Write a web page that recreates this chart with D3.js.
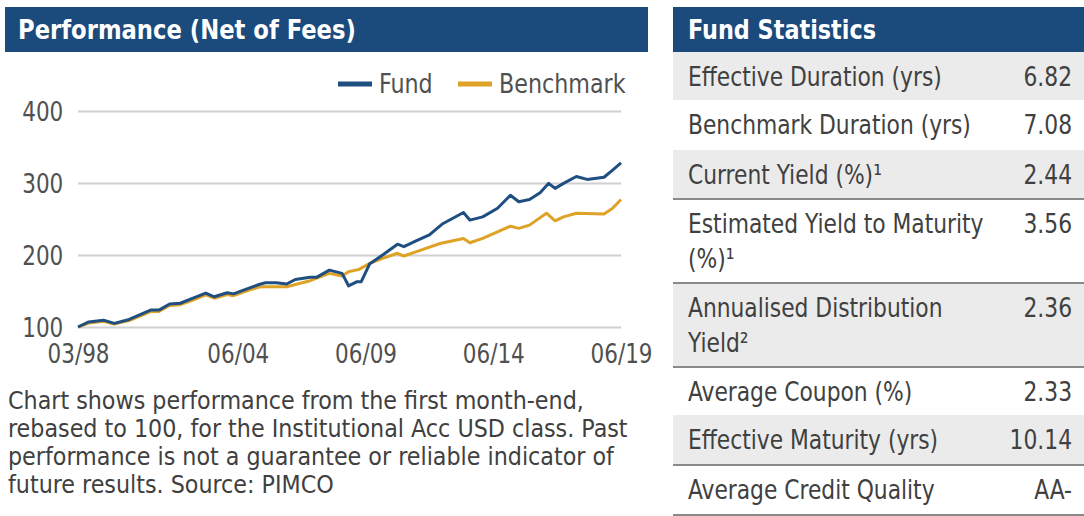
<!DOCTYPE html>
<html><head><meta charset="utf-8">
<script src="https://cdn.jsdelivr.net/npm/d3@7"></script>
<style>
html,body{margin:0;padding:0;background:#fff;}
svg{display:block;}
.f{font-family:"Liberation Sans Narrow","DejaVu Sans Condensed","Arial Narrow",sans-serif;}
</style></head>
<body>
<svg id="c" width="1084" height="516"></svg>
<script>
// ---------- data ----------
const fundDates = ["1998-03","1998-08","1999-03","1999-08","2000-03","2001-01","2001-05","2001-10","2002-03","2002-09","2003-03","2003-07","2004-01","2004-04","2004-10","2005-04","2005-07","2005-12","2006-05","2006-09","2007-04","2007-07","2008-01","2008-07","2008-09","2008-10","2009-02","2009-04","2009-08","2010-02","2010-09","2010-12","2011-06","2011-12","2012-06","2012-11","2013-04","2013-07","2014-01","2014-08","2015-02","2015-06","2015-11","2016-04","2016-08","2016-11","2017-03","2017-09","2018-02","2018-10","2019-02","2019-06"];
const fundValues = [100,107,109.5,105,110.5,123.5,123.5,132,133,140,147,142,147.5,146,152.5,159,161.5,161.5,159.7,166,169,169,179,174.5,163,157,163,163,188,200,215,211.5,220,228,243,251,259,248.5,253,265,283,274,277,286.5,299.5,292.5,299.5,309,305,308,318,328];
const benchDates = ["1998-03","1998-08","1999-03","1999-08","2000-03","2001-01","2001-05","2001-10","2002-03","2002-09","2003-03","2003-07","2004-01","2004-04","2004-10","2005-04","2005-07","2006-05","2007-04","2008-01","2008-07","2008-10","2009-03","2009-08","2010-02","2010-09","2010-12","2011-06","2012-05","2013-04","2013-07","2014-01","2015-02","2015-06","2015-11","2016-07","2016-11","2017-03","2017-09","2018-10","2019-02","2019-06"];
const benchValues = [100,105.5,108,104,109,121.5,121.5,130,131,137.5,144.5,140,145,143.5,150,155.5,156,156,164.3,174.5,170.8,176.8,180,188.4,195.4,202.4,198.6,204.6,216,223,217,223,240,237,241.5,258,247.5,253,258,257,265,277];
const yTicks = [100,200,300,400];
const xTickLabels = ["1998-03","2004-06","2009-06","2014-06","2019-06"];
const seriesNames = ["Fund","Benchmark"];
const statLabels = [["Effective Duration (yrs)"],["Benchmark Duration (yrs)"],["Current Yield (%)¹"],["Estimated Yield to Maturity","(%)¹"],["Annualised Distribution","Yield²"],["Average Coupon (%)"],["Effective Maturity (yrs)"],["Average Credit Quality"]];
const statValues = ["6.82","7.08","2.44","3.56","2.36","2.33","10.14","AA-"];
const caption = ["Chart shows performance from the first month-end,","rebased to 100, for the Institutional Acc USD class. Past","performance is not a guarantee or reliable indicator of","future results. Source: PIMCO"];

// ---------- styles ----------
const NAVY = "#1b4a7c", FUNDC = "#1f4e80", BENCHC = "#dea326", TXT = "#404040";
const SX = 0.92;
const svg = d3.select("#c");
const parse = d3.timeParse("%Y-%m");

function label(parent, x, y, str, size, opts={}){
  const g = parent.append("g").attr("transform",`translate(${x},${y}) scale(${opts.sx||SX},1)`);
  const t = g.append("text").attr("class","f").attr("font-size",size)
    .attr("fill",opts.fill||TXT).attr("text-anchor",opts.anchor||"start");
  if(opts.bold) t.attr("font-weight","bold");
  if(Array.isArray(str)) str.forEach((s,j)=>t.append("tspan").attr("x",0).attr("y",j*(opts.lh||35)).text(s));
  else t.text(str);
  return t;
}

// header bars
svg.append("rect").attr("x",5).attr("y",7).attr("width",643).attr("height",45).attr("fill",NAVY);
label(svg,18,39,"Performance (Net of Fees)",27,{fill:"#fff",bold:true,sx:0.935});
svg.append("rect").attr("x",673).attr("y",7).attr("width",411).attr("height",45).attr("fill",NAVY);
label(svg,688,39,"Fund Statistics",27,{fill:"#fff",bold:true,sx:0.92});

// scales
const x = d3.scaleTime().domain([parse("1998-03"),parse("2019-06")]).range([78,621]);
const y = d3.scaleLinear().domain([100,400]).range([327,111]);

// y axis with gridlines
const ya = svg.append("g").attr("transform","translate(78,0)")
  .call(d3.axisLeft(y).tickValues(yTicks).tickSize(-543).tickPadding(16).tickFormat(d3.format("d")));
ya.select(".domain").remove();
ya.selectAll("line").attr("stroke","#d0d0d0").attr("stroke-width",2);
ya.selectAll("text").attr("class","f").attr("font-size",26).attr("fill","#505050").attr("dy","0.36em")
  .attr("transform",`scale(${SX},1)`);

// x axis
const xa = svg.append("g").attr("transform","translate(0,327)")
  .call(d3.axisBottom(x).tickValues(xTickLabels.map(parse)).tickSize(0).tickPadding(17).tickFormat(d3.timeFormat("%m/%y")));
xa.select(".domain").remove();
xa.selectAll("text").attr("class","f").attr("font-size",26).attr("fill","#505050").attr("dy","0.72em")
  .attr("transform",`scale(${SX},1)`);

// lines
const line = d3.line().x(d=>x(d[0])).y(d=>y(d[1]));
const benchData = benchDates.map((d,i)=>[parse(d),benchValues[i]]);
const fundData = fundDates.map((d,i)=>[parse(d),fundValues[i]]);
svg.append("path").datum(benchData).attr("d",line).attr("fill","none").attr("stroke",BENCHC).attr("stroke-width",3).attr("stroke-linejoin","round");
svg.append("path").datum(fundData).attr("d",line).attr("fill","none").attr("stroke",FUNDC).attr("stroke-width",3).attr("stroke-linejoin","round");

// legend
const legX = [338,458], legC=[FUNDC,BENCHC];
seriesNames.forEach((n,i)=>{
  svg.append("line").attr("x1",legX[i]).attr("x2",legX[i]+34).attr("y1",84).attr("y2",84).attr("stroke",legC[i]).attr("stroke-width",5);
  label(svg,legX[i]+41,93,n,26,{fill:"#505050",sx:0.95});
});

// caption
caption.forEach((t,i)=>label(svg,8,409+i*28,t,25.5,{sx:0.97}));

// table
const rowB = [52,100,150,199,283,367,415,465,515];
const borders = [199,283,367,465,515];
statLabels.forEach((lab,i)=>{
  const top=rowB[i], bot=rowB[i+1];
  if(i%2===0) svg.append("rect").attr("x",673).attr("y",top).attr("width",411).attr("height",bot-top).attr("fill","#ebebeb");
});
borders.forEach(b=>svg.append("line").attr("x1",673).attr("x2",1084).attr("y1",b).attr("y2",b).attr("stroke","#8a8a8a").attr("stroke-width",2));
statLabels.forEach((lab,i)=>{
  const base = rowB[i]+34;
  label(svg,688,base,lab,26.5,{sx:0.915});
  label(svg,1072,base,statValues[i],26.5,{sx:0.915,anchor:"end"});
});
</script>
</body></html>
